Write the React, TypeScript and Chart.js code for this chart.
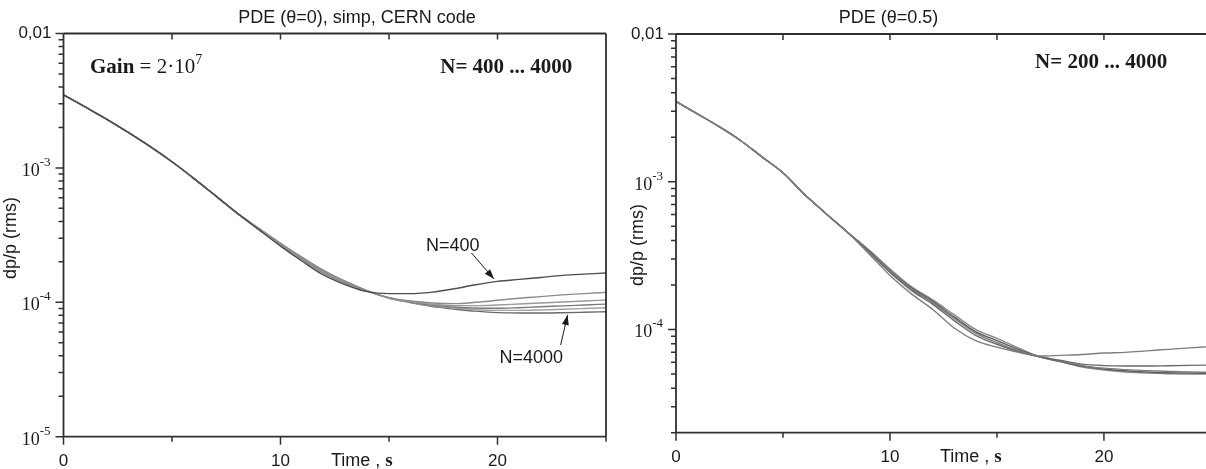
import { useEffect, useRef } from "react";
import { Chart, registerables } from "chart.js";

Chart.register(...registerables);

// Sample times (s)
const TIME = [0, 1, 2, 3, 4, 5, 6, 7, 8, 9, 10, 11, 12, 13, 14, 15, 16, 17, 18, 19, 20, 21, 22, 23, 24, 25];

// PDE (θ=0), N = 400 ... 4000 : dp/p (rms)
const L_N400 = [3.5e-3, 2.84e-3, 2.3e-3, 1.83e-3, 1.44e-3, 1.11e-3, 8.36e-4, 6.22e-4, 4.61e-4, 3.47e-4, 2.62e-4, 2.02e-4, 1.59e-4, 1.35e-4, 1.2e-4, 1.16e-4, 1.16e-4, 1.19e-4, 1.26e-4, 1.35e-4, 1.43e-4, 1.48e-4, 1.53e-4, 1.585e-4, 1.62e-4, 1.65e-4];
const L_N800 = [3.5e-3, 2.84e-3, 2.3e-3, 1.83e-3, 1.44e-3, 1.11e-3, 8.36e-4, 6.22e-4, 4.61e-4, 3.5e-4, 2.67e-4, 2.07e-4, 1.64e-4, 1.38e-4, 1.205e-4, 1.084e-4, 1.023e-4, 9.89e-5, 9.77e-5, 1.0e-4, 1.035e-4, 1.072e-4, 1.102e-4, 1.135e-4, 1.161e-4, 1.186e-4];
const L_N1000 = [3.5e-3, 2.84e-3, 2.3e-3, 1.83e-3, 1.44e-3, 1.11e-3, 8.36e-4, 6.22e-4, 4.61e-4, 3.52e-4, 2.69e-4, 2.1e-4, 1.66e-4, 1.4e-4, 1.21e-4, 1.081e-4, 1.012e-4, 9.66e-5, 9.44e-5, 9.44e-5, 9.55e-5, 9.72e-5, 9.89e-5, 1.005e-4, 1.023e-4, 1.04e-4];
const L_N2000 = [3.5e-3, 2.84e-3, 2.3e-3, 1.83e-3, 1.44e-3, 1.11e-3, 8.36e-4, 6.22e-4, 4.61e-4, 3.53e-4, 2.71e-4, 2.12e-4, 1.68e-4, 1.41e-4, 1.212e-4, 1.079e-4, 1.005e-4, 9.51e-5, 9.23e-5, 9.06e-5, 9.02e-5, 9.12e-5, 9.27e-5, 9.4e-5, 9.55e-5, 9.7e-5];
const L_N3000 = [3.5e-3, 2.84e-3, 2.3e-3, 1.83e-3, 1.44e-3, 1.11e-3, 8.36e-4, 6.22e-4, 4.61e-4, 3.54e-4, 2.73e-4, 2.14e-4, 1.7e-4, 1.42e-4, 1.215e-4, 1.076e-4, 1.0e-4, 9.4e-5, 9.06e-5, 8.81e-5, 8.71e-5, 8.71e-5, 8.77e-5, 8.87e-5, 8.99e-5, 9.12e-5];
const L_N4000 = [3.5e-3, 2.84e-3, 2.3e-3, 1.83e-3, 1.44e-3, 1.11e-3, 8.36e-4, 6.22e-4, 4.61e-4, 3.55e-4, 2.75e-4, 2.16e-4, 1.72e-4, 1.43e-4, 1.22e-4, 1.072e-4, 9.93e-5, 9.29e-5, 8.91e-5, 8.59e-5, 8.38e-5, 8.32e-5, 8.32e-5, 8.36e-5, 8.43e-5, 8.51e-5];

// PDE (θ=0.5), N = 200 ... 4000 : dp/p (rms)
const R_N200 = [3.5e-3, 2.88e-3, 2.37e-3, 1.91e-3, 1.48e-3, 1.15e-3, 8.22e-4, 6.1e-4, 4.57e-4, 3.27e-4, 2.32e-4, 1.74e-4, 1.365e-4, 1.023e-4, 8.41e-5, 7.59e-5, 7.0e-5, 6.61e-5, 6.68e-5, 6.76e-5, 6.92e-5, 7.0e-5, 7.16e-5, 7.33e-5, 7.5e-5, 7.66e-5];
const R_N400 = [3.5e-3, 2.88e-3, 2.37e-3, 1.91e-3, 1.48e-3, 1.15e-3, 8.22e-4, 6.1e-4, 4.57e-4, 3.35e-4, 2.43e-4, 1.84e-4, 1.479e-4, 1.148e-4, 9.12e-5, 7.94e-5, 7.08e-5, 6.53e-5, 6.17e-5, 5.82e-5, 5.69e-5, 5.65e-5, 5.65e-5, 5.68e-5, 5.71e-5, 5.74e-5];
const R_N1000 = [3.5e-3, 2.88e-3, 2.37e-3, 1.91e-3, 1.48e-3, 1.15e-3, 8.22e-4, 6.1e-4, 4.57e-4, 3.39e-4, 2.48e-4, 1.88e-4, 1.514e-4, 1.189e-4, 9.44e-5, 8.13e-5, 7.16e-5, 6.53e-5, 6.1e-5, 5.69e-5, 5.47e-5, 5.35e-5, 5.26e-5, 5.2e-5, 5.15e-5, 5.13e-5];
const R_N2000 = [3.5e-3, 2.88e-3, 2.37e-3, 1.91e-3, 1.48e-3, 1.15e-3, 8.22e-4, 6.1e-4, 4.57e-4, 3.43e-4, 2.51e-4, 1.91e-4, 1.549e-4, 1.216e-4, 9.66e-5, 8.41e-5, 7.33e-5, 6.53e-5, 6.05e-5, 5.62e-5, 5.4e-5, 5.25e-5, 5.15e-5, 5.09e-5, 5.06e-5, 5.05e-5];
const R_N4000 = [3.5e-3, 2.88e-3, 2.37e-3, 1.91e-3, 1.48e-3, 1.15e-3, 8.22e-4, 6.1e-4, 4.57e-4, 3.47e-4, 2.57e-4, 1.95e-4, 1.585e-4, 1.259e-4, 1.0e-4, 8.71e-5, 7.5e-5, 6.53e-5, 6.03e-5, 5.56e-5, 5.31e-5, 5.15e-5, 5.06e-5, 5.01e-5, 4.99e-5, 4.98e-5];

// Axis ticks and labels
const X_TICKS = [0, 5, 10, 15, 20, 25];
const X_LABELED = [0, 10, 20];
const Y_TICKS_L = [1e-5, 2e-5, 3e-5, 4e-5, 5e-5, 6e-5, 7e-5, 8e-5, 9e-5, 1e-4, 2e-4, 3e-4, 4e-4, 5e-4, 6e-4, 7e-4, 8e-4, 9e-4, 1e-3, 2e-3, 3e-3, 4e-3, 5e-3, 6e-3, 7e-3, 8e-3, 9e-3, 1e-2];
const Y_TICKS_R = [2e-5, 3e-5, 4e-5, 5e-5, 6e-5, 7e-5, 8e-5, 9e-5, 1e-4, 2e-4, 3e-4, 4e-4, 5e-4, 6e-4, 7e-4, 8e-4, 9e-4, 1e-3, 2e-3, 3e-3, 4e-3, 5e-3, 6e-3, 7e-3, 8e-3, 9e-3, 1e-2];
// decade labels: "0,01" then 10 with exponent
const Y_LABEL_VALUES = [1e-2, 1e-3, 1e-4, 1e-5];
const Y_LABEL_EXPONENTS = ["", "-3", "-4", "-5"];

const H = 469;
const INK = "#1a1a1a";
const AXIS = "#303030";
const SANS = '"Liberation Sans", Arial, sans-serif';
const SERIF = '"Liberation Serif", "Times New Roman", serif';

type Part = { text: string; font: string; dy?: number };
type Note = { parts: Part[]; t: number; v: number; align: "left" | "center" };
type Arrow = { from: [number, number]; to: [number, number] };
type Spec = {
  canvasWidth: number;
  area: { left: number; top: number; right: number; bottom: number };
  xMax: number;
  yMin: number;
  yMax: number;
  yTicks: number[];
  series: { label: string; data: number[]; color: string }[];
  title: { text: string; x: number; y: number };
  yTitle: { x: number; y: number };
  xTitle: { x: number; y: number };
  notes: Note[];
  arrows: Arrow[];
  rightBorder: boolean;
};

const isDecade = (v: number) => Math.abs(Math.log10(v) - Math.round(Math.log10(v))) < 1e-9;

function drawRich(ctx: CanvasRenderingContext2D, parts: Part[], x: number, y: number, align: "left" | "center" | "right") {
  let total = 0;
  for (const p of parts) {
    ctx.font = p.font;
    total += ctx.measureText(p.text).width;
  }
  let cx = align === "center" ? x - total / 2 : align === "right" ? x - total : x;
  ctx.textAlign = "left";
  ctx.textBaseline = "alphabetic";
  for (const p of parts) {
    ctx.font = p.font;
    ctx.fillText(p.text, cx, y + (p.dy ?? 0));
    cx += ctx.measureText(p.text).width;
  }
}

function makeDecor(spec: Spec) {
  return {
    id: "panelDecor",
    afterDraw(chart: Chart) {
      const { ctx, chartArea: a } = chart;
      const x = chart.scales.x;
      const y = chart.scales.y;
      ctx.save();
      // frame
      ctx.strokeStyle = AXIS;
      ctx.lineWidth = 1.8;
      ctx.beginPath();
      ctx.moveTo(a.left, a.top);
      ctx.lineTo(a.left, a.bottom);
      ctx.lineTo(a.right, a.bottom);
      ctx.moveTo(a.left, a.top);
      ctx.lineTo(a.right, a.top);
      if (spec.rightBorder) {
        ctx.moveTo(a.right, a.top);
        ctx.lineTo(a.right, a.bottom);
      }
      ctx.stroke();
      // tick marks
      ctx.lineWidth = 1.5;
      ctx.beginPath();
      for (const v of spec.yTicks) {
        const py = y.getPixelForValue(v);
        const len = isDecade(v) ? 8 : 5;
        ctx.moveTo(a.left - len, py);
        ctx.lineTo(a.left, py);
      }
      for (const t of X_TICKS) {
        if (t > spec.xMax) continue;
        const px = x.getPixelForValue(t);
        const len = t % 10 === 0 ? 8 : 5;
        ctx.moveTo(px, a.bottom);
        ctx.lineTo(px, a.bottom + len);
        if (t > 0 && t < spec.xMax) {
          ctx.moveTo(px, a.top);
          ctx.lineTo(px, a.top + 6);
        }
      }
      ctx.stroke();

      // decade labels on the log axis
      ctx.fillStyle = INK;
      Y_LABEL_VALUES.forEach((v, i) => {
        if (v < spec.yMin * 0.999 || v > spec.yMax * 1.001) return;
        const py = y.getPixelForValue(v);
        const exp = Y_LABEL_EXPONENTS[i];
        if (!exp) {
          ctx.font = `17px ${SANS}`;
          ctx.textAlign = "right";
          ctx.textBaseline = "middle";
          ctx.fillText("0,01", a.left - 12, py);
        } else {
          drawRich(
            ctx,
            [
              { text: "10", font: `18px ${SERIF}` },
              { text: exp, font: `13px ${SERIF}`, dy: -10 },
            ],
            a.left - 13,
            py + 8,
            "right"
          );
        }
      });

      // arrows
      ctx.strokeStyle = INK;
      ctx.fillStyle = INK;
      ctx.lineWidth = 1;
      for (const ar of spec.arrows) {
        const x0 = x.getPixelForValue(ar.from[0]);
        const y0 = y.getPixelForValue(ar.from[1]);
        const x1 = x.getPixelForValue(ar.to[0]);
        const y1 = y.getPixelForValue(ar.to[1]);
        const ang = Math.atan2(y1 - y0, x1 - x0);
        ctx.beginPath();
        ctx.moveTo(x0, y0);
        ctx.lineTo(x1, y1);
        ctx.stroke();
        const hl = 10;
        const hw = 3.5;
        ctx.beginPath();
        ctx.moveTo(x1, y1);
        ctx.lineTo(x1 - hl * Math.cos(ang) + hw * Math.sin(ang), y1 - hl * Math.sin(ang) - hw * Math.cos(ang));
        ctx.lineTo(x1 - hl * Math.cos(ang) - hw * Math.sin(ang), y1 - hl * Math.sin(ang) + hw * Math.cos(ang));
        ctx.closePath();
        ctx.fill();
      }

      // texts
      ctx.fillStyle = INK;
      for (const n of spec.notes) {
        drawRich(ctx, n.parts, x.getPixelForValue(n.t), y.getPixelForValue(n.v), n.align);
      }
      ctx.font = `18px ${SANS}`;
      ctx.textAlign = "center";
      ctx.textBaseline = "middle";
      ctx.fillText(spec.title.text, spec.title.x, spec.title.y);
      ctx.save();
      ctx.translate(spec.yTitle.x, spec.yTitle.y);
      ctx.rotate(-Math.PI / 2);
      ctx.fillText("dp/p (rms)", 0, 0);
      ctx.restore();
      drawRich(
        ctx,
        [
          { text: "Time , ", font: `18px ${SANS}` },
          { text: "s", font: `bold 19px ${SERIF}` },
        ],
        spec.xTitle.x,
        spec.xTitle.y,
        "left"
      );
      ctx.restore();
    },
  };
}

function buildConfig(spec: Spec): any {
  const { area } = spec;
  return {
    type: "line",
    data: {
      labels: TIME,
      datasets: spec.series.map((s) => ({
        label: s.label,
        data: s.data.map((v, i) => ({ x: TIME[i], y: v })),
        borderColor: s.color,
        borderWidth: 1.4,
        pointRadius: 0,
        fill: false,
        cubicInterpolationMode: "monotone",
      })),
    },
    options: {
      responsive: false,
      animation: false,
      devicePixelRatio: 1,
      layout: {
        padding: { left: 0, top: area.top, right: spec.canvasWidth - area.right, bottom: 0 },
      },
      plugins: {
        legend: { display: false },
        tooltip: { enabled: false },
        title: { display: false },
      },
      scales: {
        x: {
          type: "linear",
          min: 0,
          max: spec.xMax,
          grid: { display: false, drawTicks: false },
          border: { display: false },
          afterBuildTicks: (scale: any) => {
            scale.ticks = X_TICKS.filter((t) => t <= spec.xMax).map((value) => ({ value }));
          },
          afterFit: (scale: any) => {
            scale.height = H - area.bottom;
          },
          ticks: {
            autoSkip: false,
            maxRotation: 0,
            padding: 14,
            color: INK,
            font: { family: SANS, size: 17 },
            callback: (v: number) => (X_LABELED.includes(v) ? String(v) : ""),
          },
        },
        y: {
          type: "logarithmic",
          min: spec.yMin,
          max: spec.yMax,
          grid: { display: false, drawTicks: false },
          border: { display: false },
          afterBuildTicks: (scale: any) => {
            scale.ticks = spec.yTicks.map((value) => ({ value }));
          },
          afterFit: (scale: any) => {
            scale.width = area.left;
          },
          ticks: { display: false },
        },
      },
    },
    plugins: [makeDecor(spec)],
  };
}

const LEFT_CANVAS = 620;
const RIGHT_CANVAS = 1206 - LEFT_CANVAS;

const leftSpec: Spec = {
  canvasWidth: LEFT_CANVAS,
  area: { left: 63.5, top: 33.5, right: 608, bottom: 436.7 },
  xMax: 25,
  yMin: 1e-5,
  yMax: 1e-2,
  yTicks: Y_TICKS_L,
  series: [
    { label: "N=400", data: L_N400, color: "#4e4e4e" },
    { label: "N=800", data: L_N800, color: "#8c8c8c" },
    { label: "N=1000", data: L_N1000, color: "#9a9a9a" },
    { label: "N=2000", data: L_N2000, color: "#7a7a7a" },
    { label: "N=3000", data: L_N3000, color: "#a2a2a2" },
    { label: "N=4000", data: L_N4000, color: "#6a6a6a" },
  ],
  title: { text: "PDE (θ=0), simp, CERN code", x: 357, y: 18 },
  yTitle: { x: 11, y: 238 },
  xTitle: { x: 331, y: 466 },
  notes: [
    {
      parts: [
        { text: "Gain", font: `bold 21px ${SERIF}` },
        { text: " = 2·10", font: `21px ${SERIF}` },
        { text: "7", font: `14px ${SERIF}`, dy: -9 },
      ],
      t: 1.22,
      v: 5.08e-3,
      align: "left",
    },
    { parts: [{ text: "N= 400 ... 4000", font: `bold 21px ${SERIF}` }], t: 17.36, v: 5.08e-3, align: "left" },
    { parts: [{ text: "N=400", font: `18px ${SANS}` }], t: 17.94, v: 2.41e-4, align: "center" },
    { parts: [{ text: "N=4000", font: `18px ${SANS}` }], t: 21.56, v: 3.53e-5, align: "center" },
  ],
  arrows: [
    { from: [18.8, 2.33e-4], to: [19.84, 1.49e-4] },
    { from: [22.91, 4.81e-5], to: [23.23, 8.05e-5] },
  ],
  rightBorder: true,
};

const rightSpec: Spec = {
  canvasWidth: RIGHT_CANVAS,
  area: { left: 676 - LEFT_CANVAS, top: 34, right: RIGHT_CANVAS, bottom: 432.7 },
  xMax: 24.77,
  yMin: 2e-5,
  yMax: 1e-2,
  yTicks: Y_TICKS_R,
  series: [
    { label: "N=200", data: R_N200, color: "#7e7e7e" },
    { label: "N=400", data: R_N400, color: "#6a6a6a" },
    { label: "N=1000", data: R_N1000, color: "#7d7d7d" },
    { label: "N=2000", data: R_N2000, color: "#5e5e5e" },
    { label: "N=4000", data: R_N4000, color: "#8a8a8a" },
  ],
  title: { text: "PDE (θ=0.5)", x: 888.5 - LEFT_CANVAS, y: 18 },
  yTitle: { x: 638 - LEFT_CANVAS, y: 245 },
  xTitle: { x: 940 - LEFT_CANVAS, y: 462 },
  notes: [{ parts: [{ text: "N= 200 ... 4000", font: `bold 21px ${SERIF}` }], t: 16.78, v: 5.89e-3, align: "left" }],
  arrows: [],
  rightBorder: false,
};

function Panel({ spec, left }: { spec: Spec; left: number }) {
  const ref = useRef<HTMLCanvasElement>(null);
  useEffect(() => {
    const chart = new Chart(ref.current as HTMLCanvasElement, buildConfig(spec));
    return () => chart.destroy();
  }, [spec]);
  return (
    <canvas
      ref={ref}
      width={spec.canvasWidth}
      height={H}
      style={{ position: "absolute", left, top: 0, width: spec.canvasWidth, height: H }}
    />
  );
}

export default function App() {
  return (
    <div style={{ position: "absolute", left: 0, top: 0, width: 1206, height: H, background: "#fff", overflow: "hidden" }}>
      <Panel spec={leftSpec} left={0} />
      <Panel spec={rightSpec} left={LEFT_CANVAS} />
    </div>
  );
}
